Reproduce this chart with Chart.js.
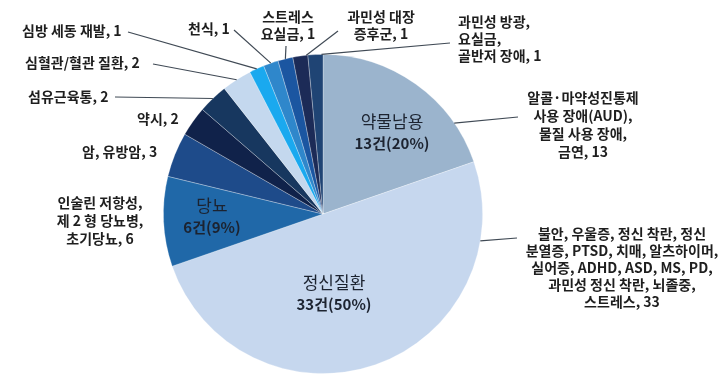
<!DOCTYPE html>
<html><head><meta charset="utf-8">
<script src="https://cdn.jsdelivr.net/npm/chart.js@4"></script>
<style>html,body{margin:0;padding:0;background:#fff}</style>
</head><body>
<canvas id="c" width="720" height="380"></canvas>
<script>
// ---- data ----
const categories = ["약물남용","정신질환","당뇨","암, 유방암","약시","섬유근육통","심혈관/혈관 질환","심방 세동 재발","천식","스트레스 요실금","과민성 대장 증후군","과민성 방광, 요실금, 골반저 장애"];
const counts = [13, 33, 6, 3, 2, 2, 2, 1, 1, 1, 1, 1];
const innerTexts = [["약물남용","13건(20%)"],["정신질환","33건(50%)"],["당뇨","6건(9%)"],null,null,null,null,null,null,null,null,null];
const outerTexts = [
  ["알콜·마약성진통제","사용 장애(AUD),","물질 사용 장애,","금연, 13"],
  ["불안, 우울증, 정신 착란, 정신","분열증, PTSD, 치매, 알츠하이머,","실어증, ADHD, ASD, MS, PD,","과민성 정신 착란, 뇌졸중,","스트레스, 33"],
  ["인술린 저항성,","제 2 형 당뇨병,","초기당뇨, 6"],
  ["암, 유방암, 3"],
  ["약시, 2"],
  ["섬유근육통, 2"],
  ["심혈관/혈관 질환, 2"],
  ["심방 세동 재발, 1"],
  ["천식, 1"],
  ["스트레스","요실금, 1"],
  ["과민성 대장","증후군, 1"],
  ["과민성 방광,","요실금,","골반저 장애, 1"]
];

// ---- style / layout ----
const sliceColors = ["#9bb4cd","#c6d7ee","#2068a8","#1e4b8a","#10224a","#17375f","#c4d8ee","#1aa9ef","#2f87cb","#1b56a1","#1c2b57","#1f4474"];
const innerPos = [[392,122],[334,283],[212,206]];
// [x, firstY, align, lineHeight]
const outerPos = [
  [583,98,"center",18],
  [622,234,"center",17],
  [100,203,"center",18],
  [82,152,"left",18],
  [137,119,"left",18],
  [28,97,"left",18],
  [25,63,"left",18],
  [22,31,"left",18],
  [188,29,"left",18],
  [288,17,"center",17],
  [381,17,"center",17],
  [458,22,"left",17]
];
// leader: [startX, startY, fraction within slice] or null
const leaders = [
  [518,117,0.78],
  [517,238,0.16],
  null, null, null,
  [115,97,0.5],
  [153,64,0.5],
  [128,32,0.5],
  [234,30,0.5],
  [286,46,0.5],
  [338,31,0.9],
  [450,43,0.9]
];

const labelPlugin = {
  id: 'labels',
  afterDatasetsDraw(chart) {
    const ctx = chart.ctx;
    const arcs = chart.getDatasetMeta(0).data;
    ctx.save();
    ctx.strokeStyle = '#404a55';
    ctx.lineWidth = 1.2;
    arcs.forEach((arc, i) => {
      const L = leaders[i];
      if (!L) return;
      const p = arc.getProps(['x','y','startAngle','endAngle','outerRadius'], true);
      const a = p.startAngle + (p.endAngle - p.startAngle) * L[2];
      const ex = p.x + Math.cos(a) * p.outerRadius;
      const ey = p.y + Math.sin(a) * p.outerRadius;
      ctx.beginPath();
      ctx.moveTo(L[0], L[1]);
      ctx.lineTo(ex, ey);
      ctx.stroke();
    });
    ctx.fillStyle = '#1e1e1e';
    ctx.textBaseline = 'middle';
    ctx.font = 'bold 14px "Noto Sans CJK KR", "Noto Sans", sans-serif';
    outerTexts.forEach((lines, i) => {
      const P = outerPos[i];
      ctx.textAlign = P[2];
      lines.forEach((t, k) => ctx.fillText(t, P[0], P[1] + k * P[3]));
    });
    ctx.textAlign = 'center';
    innerTexts.forEach((lines, i) => {
      if (!lines) return;
      const P = innerPos[i];
      ctx.fillStyle = '#1c2330';
      ctx.font = '17px "Noto Sans CJK KR", sans-serif';
      ctx.fillText(lines[0], P[0], P[1]);
      ctx.font = 'bold 15px "Noto Sans CJK KR", sans-serif';
      ctx.fillText(lines[1], P[0], P[1] + 21);
    });
    ctx.restore();
  }
};

new Chart(document.getElementById('c'), {
  type: 'pie',
  data: {
    labels: categories,
    datasets: [{
      data: counts,
      backgroundColor: sliceColors,
      borderColor: 'rgba(255,255,255,0.35)',
      borderWidth: 0.8
    }]
  },
  options: {
    responsive: false,
    animation: false,
    devicePixelRatio: 1,
    layout: { padding: { left: 0, right: 74, top: 54, bottom: 6 } },
    plugins: { legend: { display: false }, tooltip: { enabled: false } }
  },
  plugins: [labelPlugin]
});
</script>
</body></html>
